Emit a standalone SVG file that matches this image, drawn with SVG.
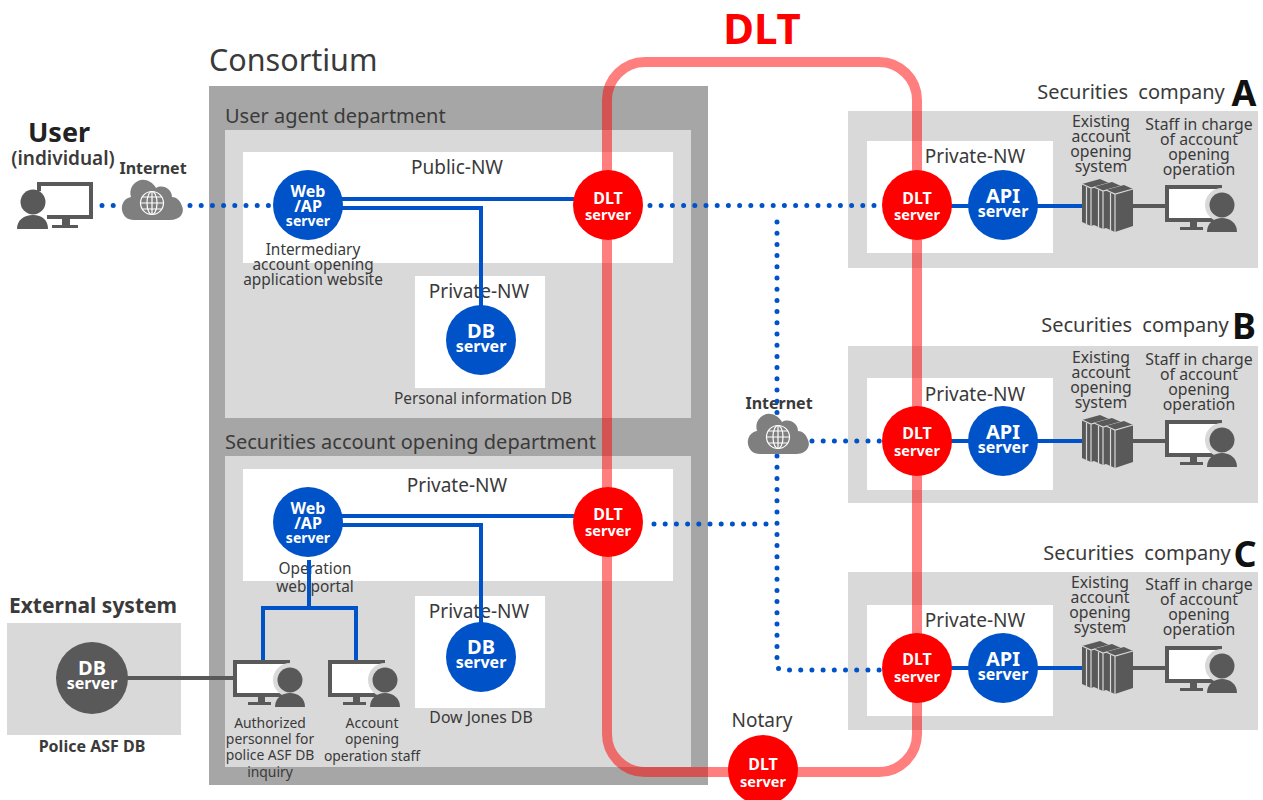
<svg xmlns="http://www.w3.org/2000/svg" width="1263" height="800" viewBox="0 0 1263 800">
<style>
text{font-family:"Noto Sans","Open Sans","Liberation Sans",sans-serif;fill:#3a3a3a;text-anchor:middle}
.l{font-size:15.8px}
.m{font-size:15.4px}
.s{font-size:13.9px}
.t{font-size:20px;text-anchor:start}
.nw{font-size:19px}
.co{font-size:20px;word-spacing:5px}
.abc{font-size:36px;font-weight:700;fill:#111}
.b{font-weight:700}
.cw{fill:#fff;font-weight:700}
.w1{font-size:16px}
.w2{font-size:14px}
.d1{font-size:20px}
.d2{font-size:16px}
.r1{font-size:16px}
.r2{font-size:14.5px}
.blue{fill:#0052c8}
.red{fill:#ff0000}
.dk{fill:#595959}
.solid{fill:none;stroke:#0052c8;stroke-width:4}
.solidg{fill:none;stroke:#595959;stroke-width:4}
.dot{fill:none;stroke:#0052c8;stroke-width:5;stroke-linecap:round;stroke-dasharray:0 11.2}
.sec{fill:#d9d9d9}
.w{fill:#fff}
.gl{stroke:#fff;fill:none;stroke-width:1.2}
.st{stroke:#d9d9d9;fill:none;stroke-width:1.2}
</style>
<defs>
<g id="staff">
<rect x="0" y="0" width="57" height="37" class="dk"/>
<rect x="4" y="4" width="53" height="29" fill="#fff"/>
<path d="M25 37H32V42H38V45H15V42H25Z" class="dk"/>
<circle cx="57" cy="20" r="17" fill="#d9d9d9"/>
<circle cx="57" cy="20" r="12.500" class="dk"/>
<path d="M42 47C42 38 49 33 57 33S72 38 72 47Z" class="dk"/>
</g>
<g id="cloud">
<path d="M-18 17H18C28 17 33 10 30 3C28-3 24-6 20-6C20-14 11-19 4-15C0-22-8-25-14-22C-20-19-23-13-21-6C-28-5-31 2-30 7C-29 13-25 17-18 17Z" fill="#7f7f7f"/>
<circle r="11.500" class="gl" stroke-width="1.500"/>
<ellipse rx="5" ry="11.500" class="gl"/>
<path d="M0-11.500V11.500M-11.500 0H11.500M-9.500-6H9.500M-9.500 6H9.500" class="gl"/>
</g>
<g id="block">
<path d="M0 5L18 0L27 4V41L9 47L0 43Z" class="dk"/>
<path d="M0 5L9 9L27 4M9 9V47M4.500 8V45" class="st"/>
</g>
<g id="rack">
<use href="#block"/>
<use href="#block" x="12" y="3"/>
<use href="#block" x="24" y="6"/>
</g>
</defs>

<rect width="1263" height="800" fill="#fff"/>

<g id="regions">
<rect x="209" y="86" width="499" height="699" fill="#a6a6a6"/>
<rect class="sec" x="225" y="130" width="466" height="288"/>
<rect class="sec" x="225" y="456" width="466" height="311"/>
<rect class="w" x="243" y="152" width="430" height="111"/>
<rect class="w" x="415" y="276" width="130" height="112"/>
<rect class="w" x="243" y="469" width="430" height="112"/>
<rect class="w" x="415" y="596" width="130" height="112"/>
<rect class="sec" x="7" y="623" width="174" height="112"/>
<rect class="sec" x="848" y="111" width="410" height="157"/>
<rect class="w" x="867" y="141" width="186" height="112"/>
<rect class="sec" x="848" y="346" width="410" height="157"/>
<rect class="w" x="867" y="378" width="186" height="112"/>
<rect class="sec" x="848" y="572" width="410" height="158"/>
<rect class="w" x="867" y="605" width="186" height="111"/>
</g>

<g id="labels">
<text x="209" y="71" style="font-size:30.500px;text-anchor:start">Consortium</text>
<text class="t" x="225" y="123">User agent department</text>
<text class="t" x="225" y="449">Securities account opening department</text>
<text class="nw" x="457" y="174">Public-NW</text>
<text class="nw" x="479" y="298">Private-NW</text>
<text class="nw" x="457" y="492">Private-NW</text>
<text class="nw" x="479" y="618">Private-NW</text>
<text class="nw" x="975" y="163">Private-NW</text>
<text class="nw" x="975" y="401">Private-NW</text>
<text class="nw" x="975" y="627">Private-NW</text>
<text x="59" y="142" class="b" style="font-size:27px;fill:#222">User<tspan x="63" dy="23" style="font-size:19px;font-weight:600;fill:#3a3a3a">(individual)</tspan></text>
<text x="153" y="174" class="b" style="font-size:16px">Internet</text>
<text x="779" y="409" class="b" style="font-size:16px">Internet</text>
<text x="93" y="613" class="b" style="font-size:21px">External system</text>
<text x="92" y="752" class="b" style="font-size:16px">Police ASF DB</text>
<text x="762" y="44" class="b" style="font-size:42px;fill:#ff0000">DLT</text>
<text x="762" y="727" class="nw">Notary</text>
<text class="m" x="313" y="255">Intermediary<tspan x="313" dy="15">account opening</tspan><tspan x="313" dy="15">application website</tspan></text>
<text class="m" x="483" y="404">Personal information DB</text>
<text class="m" x="315" y="574">Operation<tspan x="315" dy="18">web portal</tspan></text>
<text class="l" x="481" y="723">Dow Jones DB</text>
<text class="s" x="270" y="728">Authorized<tspan x="270" dy="16">personnel for</tspan><tspan x="270" dy="16">police ASF DB</tspan><tspan x="270" dy="17">inquiry</tspan></text>
<text class="s" x="372" y="728">Account<tspan x="372" dy="16">opening</tspan><tspan x="372" dy="17">operation staff</tspan></text>
<text class="co" x="1131" y="99">Securities company</text>
<text class="co" x="1135" y="332">Securities company</text>
<text class="co" x="1137" y="560">Securities company</text>
<text x="1244" y="106" class="abc">A</text>
<text x="1244" y="339" class="abc">B</text>
<text x="1245" y="567" class="abc">C</text>
<text class="l" x="1101" y="127">Existing<tspan x="1101" dy="15">account</tspan><tspan x="1101" dy="15">opening</tspan><tspan x="1101" dy="15">system</tspan></text>
<text class="l" x="1199" y="130">Staff in charge<tspan x="1199" dy="15">of account</tspan><tspan x="1199" dy="15">opening</tspan><tspan x="1199" dy="15">operation</tspan></text>
<text class="l" x="1101" y="363">Existing<tspan x="1101" dy="15">account</tspan><tspan x="1101" dy="15">opening</tspan><tspan x="1101" dy="15">system</tspan></text>
<text class="l" x="1199" y="365">Staff in charge<tspan x="1199" dy="15">of account</tspan><tspan x="1199" dy="15">opening</tspan><tspan x="1199" dy="15">operation</tspan></text>
<text class="l" x="1100" y="588">Existing<tspan x="1100" dy="15">account</tspan><tspan x="1100" dy="15">opening</tspan><tspan x="1100" dy="15">system</tspan></text>
<text class="l" x="1199" y="590">Staff in charge<tspan x="1199" dy="15">of account</tspan><tspan x="1199" dy="15">opening</tspan><tspan x="1199" dy="15">operation</tspan></text>
</g>

<g id="connectors">
<path class="dot" d="M102 205.500H122M190 205.500H270"/>
<path class="dot" d="M650 205.500H880"/>
<path class="dot" d="M777 222V418M777 456V664Q777 670 783 670H882"/>
<path class="dot" d="M654 524H777"/>
<path class="dot" d="M812 441H880"/>
<path class="solid" d="M342 199H575M342 208H481V306"/>
<path class="solid" d="M342 516H575M342 525H481V624"/>
<path class="solid" d="M263 660V608H356V660M309 560V608"/>
<path class="solid" d="M950 206H970M1037 206H1084"/>
<path class="solid" d="M950 441H970M1037 441H1084"/>
<path class="solid" d="M950 668H970M1037 668H1084"/>
<path class="solidg" d="M125 678H233"/>
<path class="solidg" d="M1132 206H1167M1132 441H1167M1132 668H1167"/>
</g>

<g id="node-user">
<path d="M37 182H93V219H47V215H89V186H41V191H37Z" class="dk"/>
<path d="M62 219H70V225H78V228H52V225H62Z" class="dk"/>
<circle cx="33" cy="202" r="12.500" class="dk"/>
<path d="M17 229C17 220 24 215 33 215S48 220 48 229Z" class="dk"/>
</g>
<g id="node-internet1"><use href="#cloud" x="152" y="203"/></g>
<g id="node-internet2"><use href="#cloud" x="778" y="437"/></g>

<g id="node-webap1"><circle class="blue" cx="308" cy="205" r="35"/><text class="cw w1" x="308" y="197">Web<tspan x="308" dy="15">/AP</tspan><tspan x="308" dy="14" class="w2">server</tspan></text></g>
<g id="node-webap2"><circle class="blue" cx="308" cy="522" r="35"/><text class="cw w1" x="308" y="514">Web<tspan x="308" dy="15">/AP</tspan><tspan x="308" dy="14" class="w2">server</tspan></text></g>
<g id="node-db1"><circle class="blue" cx="481" cy="340" r="35"/><text class="cw d1" x="481" y="338">DB<tspan x="481" dy="14" class="d2">server</tspan></text></g>
<g id="node-db2"><circle class="blue" cx="481" cy="657" r="35"/><text class="cw d1" x="481" y="654">DB<tspan x="481" dy="14" class="d2">server</tspan></text></g>
<g id="node-db3"><circle class="dk" cx="92" cy="678" r="36"/><text class="cw d1" x="92" y="675">DB<tspan x="92" dy="14" class="d2">server</tspan></text></g>

<g id="node-api-a"><circle class="blue" cx="1003" cy="205" r="35"/><text class="cw d1" x="1003" y="203">API<tspan x="1003" dy="14" class="d2">server</tspan></text></g>
<g id="node-api-b"><circle class="blue" cx="1003" cy="441" r="35"/><text class="cw d1" x="1003" y="439">API<tspan x="1003" dy="14" class="d2">server</tspan></text></g>
<g id="node-api-c"><circle class="blue" cx="1003" cy="668" r="35"/><text class="cw d1" x="1003" y="666">API<tspan x="1003" dy="14" class="d2">server</tspan></text></g>

<g id="node-rack-a"><use href="#rack" x="1082" y="179"/></g>
<g id="node-rack-b"><use href="#rack" x="1082" y="415"/></g>
<g id="node-rack-c"><use href="#rack" x="1082" y="641"/></g>
<g id="node-staff-a"><use href="#staff" x="1165" y="185"/></g>
<g id="node-staff-b"><use href="#staff" x="1165" y="420"/></g>
<g id="node-staff-c"><use href="#staff" x="1165" y="646"/></g>
<g id="node-auth"><use href="#staff" x="233" y="660"/></g>
<g id="node-acct"><use href="#staff" x="328" y="660"/></g>

<g id="dlt-ring"><rect x="607" y="62" width="310" height="710" rx="38" fill="none" stroke="#ff0000" stroke-opacity=".5" stroke-width="10"/></g>

<g id="node-dlt1"><circle class="red" cx="608" cy="205" r="35"/><text class="cw r1" x="608" y="204">DLT<tspan x="608" dy="16" class="r2">server</tspan></text></g>
<g id="node-dlt2"><circle class="red" cx="608" cy="522" r="35"/><text class="cw r1" x="608" y="520">DLT<tspan x="608" dy="16" class="r2">server</tspan></text></g>
<g id="node-dlt3"><circle class="red" cx="917" cy="205" r="35"/><text class="cw r1" x="917" y="204">DLT<tspan x="917" dy="16" class="r2">server</tspan></text></g>
<g id="node-dlt4"><circle class="red" cx="917" cy="441" r="35"/><text class="cw r1" x="917" y="439">DLT<tspan x="917" dy="17" class="r2">server</tspan></text></g>
<g id="node-dlt5"><circle class="red" cx="917" cy="668" r="35"/><text class="cw r1" x="917" y="665">DLT<tspan x="917" dy="17" class="r2">server</tspan></text></g>
<g id="node-notary"><circle class="red" cx="763" cy="770" r="35"/><text class="cw r1" x="763" y="770">DLT<tspan x="763" dy="17" class="r2">server</tspan></text></g>
</svg>
